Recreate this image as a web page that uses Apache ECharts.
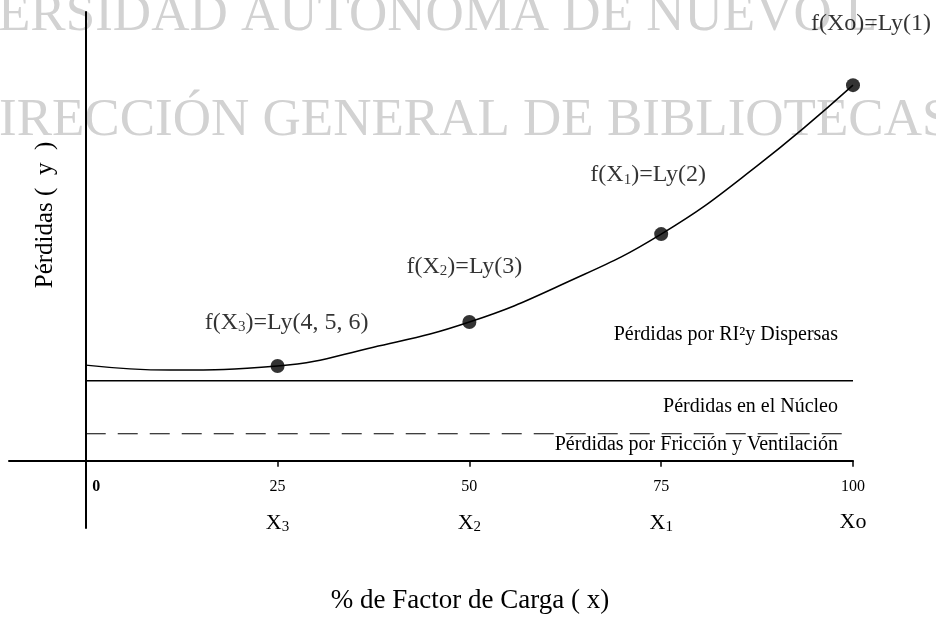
<!DOCTYPE html>
<html>
<head>
    <meta charset="UTF-8">
    <script src="https://cdn.jsdelivr.net/npm/echarts@6/dist/echarts.min.js"></script>
    <style type="text/css">
        body { margin: 0; background: #fff; }
        #chart { width: 936px; height: 617px; }
    </style>
</head>
<body>
    <div id="chart"></div>
    <script type="text/javascript">
        // curve (arbitrary loss units)
        var curveX = [0, 11, 25, 37.5, 50, 62.5, 75, 87.5, 100];
        var curveY = [21.3, 20.2, 21.1, 25.3, 30.9, 39.6, 50.5, 65.7, 83.7];
        // marked points
        var pointX = [25, 50, 75, 100];
        var pointY = [21.1, 30.9, 50.5, 83.7];
        var pointLabels = ['f(X{s|3})=Ly(4, 5, 6)', 'f(X{s|2})=Ly(3)', 'f(X{s|1})=Ly(2)', 'f(Xo)=Ly(1)'];
        // constant loss levels
        var coreLoss = 17.8;
        var frictionLoss = 6.0;
        // axis labels
        var tickValues = [0, 25, 50, 75, 100];
        var loadNames = ['X{s|3}', 'X{s|2}', 'X{s|1}', 'Xo'];

        var serif = '"Liberation Serif", "DejaVu Serif", serif';
        var labelOffsets = [[9, -43], [-5, -55], [-13, -59], [18, -61]];
        var subStyle = { fontFamily: serif, fontSize: 15, verticalAlign: 'bottom', padding: [9, 0, 0, 0] };

        var chart = echarts.init(document.getElementById('chart'));

        var option = {
            backgroundColor: '#fff',
            animation: false,
            textStyle: { fontFamily: serif, color: '#000' },
            grid: { left: 9, right: 83, top: 12, bottom: 89, containLabel: false, outerBoundsMode: 'none' },
            xAxis: [{
                type: 'value',
                position: 'bottom',
                min: -10,
                max: 100,
                splitLine: { show: false },
                axisLine: { onZero: true, lineStyle: { color: '#000', width: 2 } },
                axisTick: { customValues: tickValues.slice(1), length: 6, lineStyle: { color: '#000', width: 1.5 } },
                axisLabel: {
                    customValues: tickValues,
                    margin: -49,
                    color: '#000',
                    fontFamily: serif,
                    fontSize: 16,
                    formatter: function (v) {
                        return v === 0 ? '{z|0}' : String(v);
                    },
                    rich: { z: { fontFamily: serif, fontSize: 16, fontWeight: 'bold', padding: [0, 0, 0, 21] } }
                },
                name: '% de Factor de Carga ( x)',
                nameLocation: 'middle',
                nameGap: 59,
                nameTextStyle: { fontFamily: serif, fontSize: 27, color: '#000', padding: [0, 0, 0, 78] }
            }, {
                type: 'value',
                position: 'bottom',
                min: -10,
                max: 100,
                splitLine: { show: false },
                axisLine: { show: false, onZero: true },
                axisTick: { show: false },
                axisLabel: {
                    customValues: pointX,
                    margin: -17,
                    color: '#000',
                    fontFamily: serif,
                    fontSize: 22,
                    formatter: function (v) {
                        return loadNames[pointX.indexOf(v)];
                    },
                    rich: { s: subStyle }
                }
            }],
            yAxis: {
                type: 'value',
                min: -15,
                max: 100,
                splitLine: { show: false },
                axisTick: { show: false },
                axisLabel: { show: false },
                axisLine: { onZero: true, lineStyle: { color: '#000', width: 2 } },
                name: 'Pérdidas (  y  )',
                nameLocation: 'middle',
                nameRotate: 90,
                nameGap: -49,
                nameTextStyle: { fontFamily: serif, fontSize: 25, color: '#000', padding: [0, 0, 0, 110] }
            },
            series: [{
                name: 'curve',
                type: 'line',
                smooth: 0.45,
                showSymbol: false,
                lineStyle: { color: '#000', width: 1.5 },
                data: curveX.map(function (x, i) { return [x, curveY[i]]; }),
                z: 3
            }, {
                name: 'core',
                type: 'line',
                showSymbol: false,
                lineStyle: { color: '#000', width: 1.5 },
                data: [[0, coreLoss], [100, coreLoss]]
            }, {
                name: 'friction',
                type: 'line',
                showSymbol: false,
                lineStyle: { color: '#000', width: 1.2, type: [20, 12] },
                data: [[0, frictionLoss], [100, frictionLoss]]
            }, {
                name: 'points',
                type: 'scatter',
                symbolSize: 14,
                itemStyle: { color: '#000' },
                z: 4,
                label: {
                    show: true,
                    position: 'inside',
                    color: '#000',
                    fontFamily: serif,
                    fontSize: 24,
                    rich: { s: subStyle }
                },
                data: pointX.map(function (x, i) {
                    return {
                        value: [x, pointY[i]],
                        label: { formatter: pointLabels[i], offset: labelOffsets[i] }
                    };
                })
            }]
        };
        chart.setOption(option);

        // region texts, anchored to the loss levels through the chart scales
        var corePx = chart.convertToPixel({ gridIndex: 0 }, [100, coreLoss]);
        var fricPx = chart.convertToPixel({ gridIndex: 0 }, [100, frictionLoss]);
        var regionStyle = { fontFamily: serif, fontSize: 20, fill: '#000', align: 'right', verticalAlign: 'middle' };
        var watermark = { fontFamily: serif, fontSize: 53, fill: '#d2d2d2', align: 'left' };

        chart.setOption({
            graphic: [
                { type: 'text', z: -10, left: -2, top: -10, style: Object.assign({ text: 'ERSIDAD AUTONOMA DE NUEVO L' }, watermark) },
                { type: 'text', z: -10, left: -1, top: 95, style: Object.assign({ text: 'IRECCIÓN GENERAL DE BIBLIOTECAS' }, watermark) },
                { type: 'text', x: corePx[0] - 15, y: corePx[1] - 46, style: Object.assign({ text: 'Pérdidas por RI²y Dispersas' }, regionStyle) },
                { type: 'text', x: corePx[0] - 15, y: corePx[1] + 26, style: Object.assign({ text: 'Pérdidas en el Núcleo' }, regionStyle) },
                { type: 'text', x: fricPx[0] - 15, y: fricPx[1] + 11, style: Object.assign({ text: 'Pérdidas por Fricción y Ventilación' }, regionStyle) }
            ]
        });
    </script>
</body>
</html>
